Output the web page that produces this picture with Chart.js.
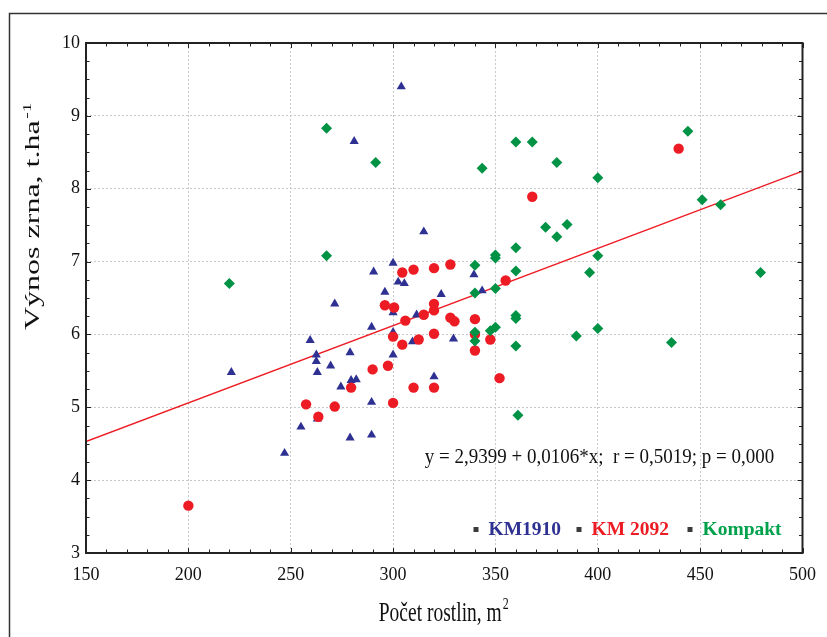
<!DOCTYPE html>
<html>
<head>
<meta charset="utf-8">
<script src="https://cdn.jsdelivr.net/npm/chart.js@4.4.1/dist/chart.umd.min.js"></script>
<style>
  html, body { margin: 0; padding: 0; background: #fff; }
  #wrap { width: 827px; height: 637px; }
</style>
</head>
<body>
<div id="wrap"><canvas id="chart" width="827" height="637"></canvas></div>
<script>
// KM1910 - plants per m2 / yield t/ha
const km1910X = [304, 281, 300, 290.5, 302.5, 305.5, 296, 300, 271.5, 289.5, 300, 259.5,
  262.5, 262.5, 269.5, 279, 300, 263, 221, 279.5, 282, 274.5, 289.5, 263, 255, 279,
  289.5, 247, 315, 339.5, 311.5, 323.5, 343.5, 309.5, 329.5, 320];
const km1910Y = [9.40, 8.65, 6.98, 6.86, 6.72, 6.70, 6.58, 6.30, 6.42, 6.10, 6.03, 5.92,
  5.72, 5.63, 5.57, 5.75, 5.72, 5.48, 5.48, 5.37, 5.38, 5.28, 5.07, 4.84, 4.73, 4.58,
  4.62, 4.37, 7.41, 6.82, 6.27, 6.55, 6.60, 5.90, 5.94, 5.42];

// KM 2092
const km2092X = [304.5, 296, 300.5, 300, 290, 297.5, 279.5, 257.5, 271.5, 300, 263.5, 200,
  328, 320, 310, 355, 320, 320, 315, 306, 328, 330, 340, 304.5, 312.5, 320, 340, 340,
  347.5, 352, 310, 320, 439.5, 368];
const km2092Y = [6.85, 6.40, 6.37, 5.97, 5.52, 5.57, 5.27, 5.04, 5.01, 5.06, 4.87, 3.65,
  6.96, 6.91, 6.89, 6.74, 6.42, 6.33, 6.27, 6.19, 6.23, 6.18, 6.21, 5.86, 5.93, 6.01,
  6.00, 5.78, 5.93, 5.40, 5.27, 5.27, 8.55, 7.89];

// Kompakt
const kompaktX = [267.5, 291.5, 267.5, 220, 361, 343.5, 360, 360, 350, 350, 340, 360,
  340, 350, 360, 360, 340, 340, 347.5, 350, 360, 368, 444, 380, 400, 451, 460, 374.5,
  385, 380, 400, 396, 479.5, 400, 389.5, 436];
const kompaktY = [8.83, 8.36, 7.08, 6.70, 4.89, 8.28, 8.64, 7.19, 7.09, 7.05, 6.95, 6.87,
  6.57, 6.63, 6.26, 6.22, 6.03, 5.91, 6.05, 6.10, 5.84, 8.64, 8.79, 8.36, 8.15, 7.85,
  7.78, 7.47, 7.51, 7.34, 7.08, 6.85, 6.85, 6.08, 5.98, 5.89];

// regression line y = 2,9399 + 0,0106*x
const fitX = [150, 500];
const fitY = [4.53, 8.24];

const xTicks = [150, 200, 250, 300, 350, 400, 450, 500];
const yTicks = [3, 4, 5, 6, 7, 8, 9, 10];

const seriesNames = ['KM1910', 'KM 2092', 'Kompakt'];
const equationText = 'y = 2,9399 + 0,0106*x;  r = 0,5019; p = 0,000';

const BLUE = '#2e3192';
const RED = '#ed1c24';
const GREEN = '#009245';
const GREEN_TEXT = '#00a14b';
const SERIF = "'Liberation Serif', 'Times New Roman', serif";

function toPoints(xs, ys) {
  return xs.map((x, i) => ({ x: x, y: ys[i] }));
}

// text squashed/stretched like in the exported original
function stretchedText(ctx, text, x, y, size, sy, opts) {
  opts = opts || {};
  ctx.save();
  ctx.translate(x, y);
  if (opts.rotate) ctx.rotate(opts.rotate);
  ctx.scale(opts.rotate ? sy : 1, opts.rotate ? 1 : sy);
  ctx.font = (opts.bold ? 'bold ' : '') + size + 'px ' + SERIF;
  ctx.fillStyle = opts.color || '#111';
  ctx.textAlign = opts.align || 'left';
  ctx.textBaseline = 'alphabetic';
  ctx.fillText(text, 0, 0);
  let w = ctx.measureText(text).width;
  if (opts.sup) {
    let off = opts.align === 'center' ? w / 2 : (opts.align === 'right' ? 0 : w);
    ctx.font = Math.round(size * 0.62) + 'px ' + SERIF;
    ctx.textAlign = 'left';
    ctx.fillText(opts.sup, off + 1, -size * 0.42);
  }
  ctx.restore();
}

const framePlugin = {
  id: 'framePlugin',
  beforeDraw(chart) {
    const ctx = chart.ctx;
    ctx.save();
    ctx.strokeStyle = '#333';
    ctx.lineWidth = 1.5;
    ctx.strokeRect(9.5, 13.5, 840, 650);
    ctx.restore();
  },
  afterDraw(chart) {
    const ctx = chart.ctx;
    const a = chart.chartArea;
    const xs = chart.scales.x;
    const ys = chart.scales.y;

    ctx.save();
    ctx.strokeStyle = '#222';
    ctx.lineWidth = 1;
    ctx.beginPath();
    for (let v = 150; v <= 500; v += 10) {
      const px = Math.round(xs.getPixelForValue(v)) + 0.5;
      const len = v % 50 === 0 ? 5 : 3.5;
      ctx.moveTo(px, a.bottom); ctx.lineTo(px, a.bottom - len);
      ctx.moveTo(px, a.top); ctx.lineTo(px, a.top + len);
    }
    for (let v = 3; v <= 10; v += 0.25) {
      const py = Math.round(ys.getPixelForValue(v)) + 0.5;
      const len = Number.isInteger(v) ? 5 : 3.5;
      ctx.moveTo(a.left, py); ctx.lineTo(a.left + len, py);
      ctx.moveTo(a.right, py); ctx.lineTo(a.right - len, py);
    }
    ctx.stroke();

    ctx.lineWidth = 2;
    ctx.strokeStyle = '#222';
    ctx.strokeRect(a.left, a.top, a.right - a.left, a.bottom - a.top);
    ctx.restore();

    // equation
    stretchedText(ctx, equationText, xs.getPixelForValue(315.5), ys.getPixelForValue(4.236), 19, 1.09);

    // legend inside the plot
    const legendColors = [BLUE, RED, GREEN_TEXT];
    const legendLeft = [a.right - 329, a.right - 226, a.right - 115];
    const ly = a.bottom - 18;
    seriesNames.forEach((name, i) => {
      ctx.save();
      ctx.fillStyle = '#3a3a3a';
      ctx.fillRect(legendLeft[i], ly - 8, 5, 5);
      ctx.restore();
      stretchedText(ctx, name, legendLeft[i] + 15, ly, 19.5, 1.0, { bold: true, color: legendColors[i] });
    });

    // axis titles
    stretchedText(ctx, 'Počet rostlin, m', (a.left + a.right) / 2 - 4, 621, 19.5, 1.45,
      { align: 'center', sup: '2' });
    stretchedText(ctx, 'Výnos zrna, t.ha', 39, 330, 20, 1.6,
      { rotate: -Math.PI / 2, sup: '-1' });
  }
};

const ctx = document.getElementById('chart').getContext('2d');
const chart = new Chart(ctx, {
  type: 'scatter',
  data: {
    datasets: [
      {
        label: seriesNames[0],
        data: toPoints(km1910X, km1910Y),
        pointStyle: 'triangle',
        pointRadius: 5.3,
        backgroundColor: BLUE,
        borderColor: BLUE,
        borderWidth: 0,
        order: 2
      },
      {
        label: seriesNames[1],
        data: toPoints(km2092X, km2092Y),
        pointStyle: 'circle',
        pointRadius: 5.2,
        backgroundColor: RED,
        borderColor: RED,
        borderWidth: 0,
        order: 1
      },
      {
        label: seriesNames[2],
        data: toPoints(kompaktX, kompaktY),
        pointStyle: 'rectRot',
        pointRadius: 5.5,
        backgroundColor: GREEN,
        borderColor: GREEN,
        borderWidth: 0,
        order: 0
      },
      {
        type: 'line',
        label: 'fit',
        data: toPoints(fitX, fitY),
        borderColor: RED,
        borderWidth: 1.3,
        pointRadius: 0,
        fill: false,
        order: 3
      }
    ]
  },
  options: {
    responsive: false,
    animation: false,
    events: [],
    layout: { padding: { left: 0, top: 43, right: 20, bottom: 0 } },
    plugins: {
      legend: { display: false },
      tooltip: { enabled: false }
    },
    scales: {
      x: {
        type: 'linear',
        min: 150,
        max: 500,
        afterBuildTicks: (scale) => { scale.ticks = xTicks.map(v => ({ value: v })); },
        afterFit: (scale) => { scale.height = 84; },
        grid: { color: '#c8c8c8', lineWidth: 1, drawTicks: false },
        border: { display: false, dash: [2, 2] },
        ticks: {
          padding: 11,
          color: '#111',
          font: { family: SERIF, size: 18 },
          maxRotation: 0
        }
      },
      y: {
        type: 'linear',
        min: 3,
        max: 10,
        afterBuildTicks: (scale) => { scale.ticks = yTicks.map(v => ({ value: v })); },
        afterFit: (scale) => { scale.width = 86; },
        grid: { color: '#c8c8c8', lineWidth: 1, drawTicks: false },
        border: { display: false, dash: [2, 2] },
        ticks: {
          padding: 6,
          color: '#111',
          font: { family: SERIF, size: 18 }
        }
      }
    }
  },
  plugins: [framePlugin]
});
</script>
</body>
</html>
